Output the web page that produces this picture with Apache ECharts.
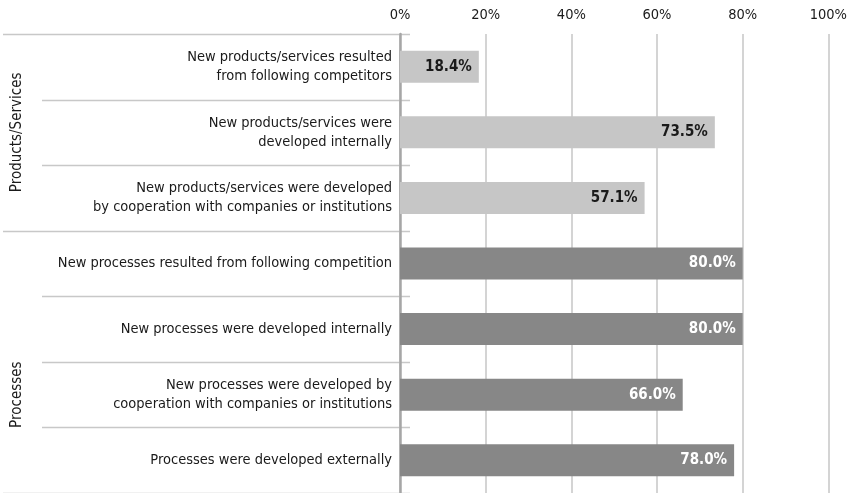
<!DOCTYPE html>
<html>
<head>
<meta charset="utf-8">
<script src="https://cdn.jsdelivr.net/npm/echarts@6/dist/echarts.min.js"></script>
<style>
html,body{margin:0;padding:0;background:#fff;}
#chart{width:850px;height:493px;}
</style>
</head>
<body>
<div id="chart"></div>
<script>
// ---- data ----
const categories = [
  'New products/services resulted\nfrom following competitors',
  'New products/services were\ndeveloped internally',
  'New products/services were developed\nby cooperation with companies or institutions',
  'New processes resulted from following competition',
  'New processes were developed internally',
  'New processes were developed by\ncooperation with companies or institutions',
  'Processes were developed externally'
];
const values = [18.4, 73.5, 57.1, 80.0, 80.0, 66.0, 78.0];
const groupOf = [0, 0, 0, 1, 1, 1, 1];
const groupNames = ['Products/Services', 'Processes'];
const groupLabelFrom = [0, 4];
const groupLabelTo = [2, 6];
const groupBarColors = ['#c6c6c6', '#878787'];
const groupLabelColors = ['#1a1a1a', '#ffffff'];
const xTicks = [0, 20, 40, 60, 80, 100];

const FONT = '"Liberation Sans Narrow", "DejaVu Sans Condensed", "Roboto Condensed", sans-serif';

const chart = echarts.init(document.getElementById('chart'));
const option = {
  animation: false,
  backgroundColor: '#ffffff',
  grid: { left: 400, right: 19.5, top: 34, height: 459, containLabel: false },
  xAxis: {
    type: 'value',
    position: 'top',
    min: xTicks[0],
    max: xTicks[xTicks.length - 1],
    interval: xTicks[1] - xTicks[0],
    axisLine: { show: false },
    axisTick: { show: false },
    axisLabel: {
      formatter: '{value}%',
      color: '#1a1a1a',
      fontFamily: FONT,
      fontSize: 14.5,
      margin: 11
    },
    splitLine: { show: true, lineStyle: { color: '#d4d4d4', width: 2 } }
  },
  yAxis: {
    type: 'category',
    inverse: true,
    data: categories,
    axisLine: { show: true, lineStyle: { color: '#a6a6a6', width: 2.5 } },
    axisTick: { show: false },
    axisLabel: {
      color: '#1a1a1a',
      fontFamily: FONT,
      fontSize: 14.5,
      lineHeight: 19,
      margin: 8,
      align: 'right'
    },
    splitLine: { show: false }
  },
  series: [{
    type: 'bar',
    barWidth: 32,
    data: values.map((v, i) => ({
      value: v,
      itemStyle: { color: groupBarColors[groupOf[i]] },
      label: { color: groupLabelColors[groupOf[i]] }
    })),
    label: {
      show: true,
      position: 'insideRight',
      distance: 7,
      fontFamily: FONT,
      fontWeight: 'bold',
      fontSize: 15,
      formatter: p => p.value.toFixed(1) + '%'
    }
  }]
};
chart.setOption(option);

// separators and group labels computed from the axis scales
const c0 = chart.convertToPixel({ yAxisIndex: 0 }, categories[0]);
const c1 = chart.convertToPixel({ yAxisIndex: 0 }, categories[1]);
const band = c1 - c0;
const axisX = chart.convertToPixel({ xAxisIndex: 0 }, 0);
const groupBoundaries = [0];
let acc = 0;
groupNames.forEach((g, gi) => { acc += groupOf.filter(x => x === gi).length; groupBoundaries.push(acc); });
const graphics = [];
for (let i = 0; i <= categories.length; i++) {
  const y = Math.round(c0 - band / 2 + i * band) + 0.5;
  const isGroup = groupBoundaries.indexOf(i) >= 0;
  graphics.push({
    type: 'line', z: 0,
    shape: { x1: isGroup ? 3 : 42, y1: y, x2: axisX + 10, y2: y },
    style: { stroke: '#c8c8c8', lineWidth: 1.5 }
  });
}
groupNames.forEach((g, gi) => {
  const ya = chart.convertToPixel({ yAxisIndex: 0 }, categories[groupLabelFrom[gi]]);
  const yb = chart.convertToPixel({ yAxisIndex: 0 }, categories[groupLabelTo[gi]]);
  graphics.push({
    type: 'text',
    x: 17, y: (ya + yb) / 2,
    rotation: Math.PI / 2,
    style: {
      text: g, fill: '#1a1a1a', font: '15px ' + FONT,
      textAlign: 'center', textVerticalAlign: 'middle'
    }
  });
});
chart.setOption({ graphic: graphics });
</script>
</body>
</html>
